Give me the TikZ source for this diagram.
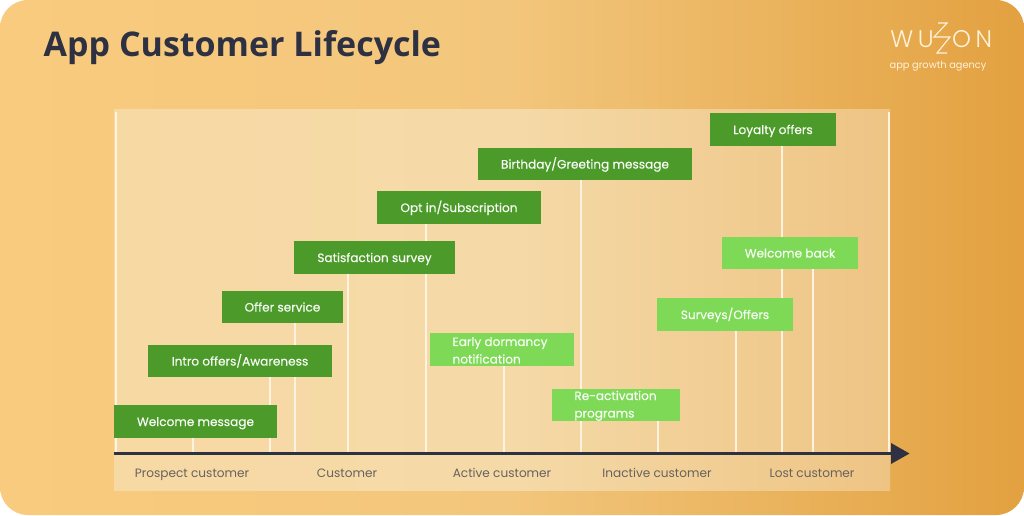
\documentclass[tikz,border=0pt]{standalone}
\usepackage{fontspec}
\setmainfont{Poppins}
\newfontfamily\titlefont[BoldFont={Open Sans Bold}]{Open Sans}
\newfontfamily\logofont[LetterSpace=19]{Poppins Light}
\newfontfamily\boxfont[FakeBold=0.3]{Poppins}
\pgfdeclarelayer{under}
\pgfsetlayers{under,main}
\definecolor{bgL}{HTML}{F9CB7E}
\definecolor{bgM}{HTML}{F2C67C}
\definecolor{bgR}{HTML}{E3A140}
\definecolor{panL}{HTML}{F7D9A4}
\definecolor{panM}{HTML}{F5DAA8}
\definecolor{panR}{HTML}{EEC484}
\definecolor{darkg}{HTML}{4C9A2A}
\definecolor{lightg}{HTML}{7ED957}
\definecolor{axisc}{HTML}{2D3142}
\definecolor{capc}{HTML}{66625E}
\definecolor{stemc}{HTML}{FFF3DF}
\definecolor{logoc}{HTML}{FFF3DC}
\tikzset{
  box/.style={inner sep=0pt,outer sep=0pt},
  darkbox/.style={box,fill=darkg},
  lightbox/.style={box,fill=lightg},
  boxlabel/.style={text=white!94!lightg,inner sep=0pt,align=left,font=\boxfont\fontsize{12.1}{17.5}\selectfont},
  boxtext/.style={boxlabel,text height=11pt,text depth=2pt},
  boxtwo/.style={boxlabel,yshift=-0.8pt},
  stem/.style={draw=stemc,line width=2pt},
  caption/.style={text=capc,font=\fontsize{12.1}{14}\selectfont,inner sep=0pt,anchor=base},
  axisline/.style={draw=axisc,line width=3.6pt}
}
\newcommand{\bx}[8][boxtext]{% name, style, x0,y0,x1,y1,text
  \node[#3,minimum width=#6pt-#4pt,minimum height=#7pt-#5pt] (#2) at ({(#4+#6)/2},{(#5+#7)/2}) {};
  \node[#1] (#2t) at (#2) {#8};
}
\begin{document}
\begin{tikzpicture}[x=1pt,y=-1pt]
\useasboundingbox (0,0) rectangle (1024,515);
\node[anchor=west,inner sep=0pt,text=axisc,font=\titlefont\bfseries\fontsize{34}{40}\selectfont] (title) at (43.5,48) {App Customer Lifecycle};
% feet on the axis
\coordinate (axisL) at (114,453.5);
\coordinate (axisR) at (892,453.5);
\foreach \n/\x in {a/116,b/193,c/270,d/295,e/348,f/426,g/504,h/581,i/658,j/736,k/782,l/813,m/889}
  \coordinate (foot\n) at (\x,452);
\coordinate (topa) at (116,112);
\coordinate (topm) at (889,112);
\bx{welcome}{darkbox}{114}{405}{277}{438}{Welcome message}
\bx{intro}{darkbox}{148}{345}{332}{377}{Intro offers/Awareness}
\bx{offer}{darkbox}{222}{291}{343}{323}{Offer service}
\bx{satis}{darkbox}{294}{241}{455}{274}{Satisfaction survey}
\bx{optin}{darkbox}{377}{191}{541}{224}{Opt in/Subscription}
\bx{birth}{darkbox}{478}{148}{692}{180}{Birthday/Greeting message}
\bx{loyal}{darkbox}{710}{113}{836}{146}{Loyalty offers}
\bx[boxtwo,xshift=-2pt]{early}{lightbox}{430}{333}{574}{366}{Early dormancy\\notification}
\bx[boxtwo,xshift=-0.5pt]{react}{lightbox}{552}{389}{680}{421}{Re-activation\\programs}
\bx{surv}{lightbox}{657}{298}{793}{331}{Surveys/Offers}
\bx{back}{lightbox}{722}{237}{858}{269}{Welcome back}
\begin{pgfonlayer}{under}
\fill[white] (0,0) rectangle (1024,515);
\shade[left color=bgL,right color=bgR,middle color=bgM,rounded corners=28pt] (0,0) rectangle (1024,515);
\shade[left color=panL,right color=panR,middle color=panM] (114,109) rectangle (890,490);
\draw[stem] (topa) -- (foota);
\draw[stem] (topm) -- (footm);
\draw[stem] (welcome.south -| footb) -- (footb);
\draw[stem] (intro.south -| footc) -- (footc);
\draw[stem] (offer.south -| footd) -- (footd);
\draw[stem] (satis.south -| foote) -- (foote);
\draw[stem] (optin.south -| footf) -- (footf);
\draw[stem] (early.south -| footg) -- (footg);
\draw[stem] (birth.south -| footh) -- (footh);
\draw[stem] (react.south -| footi) -- (footi);
\draw[stem] (surv.south -| footj) -- (footj);
\draw[stem] (loyal.south -| footk) -- (footk);
\draw[stem] (back.south -| footl) -- (footl);
\end{pgfonlayer}
\draw[axisline] (axisL) -- (axisR);
\fill[axisc] (891,443) -- (909.5,453.5) -- (891,464) -- cycle;
\node[caption] (c1) at (192,477.5) {Prospect customer};
\node[caption] (c2) at (347,477.5) {Customer};
\node[caption] (c3) at (502,477.5) {Active customer};
\node[caption] (c4) at (657,477.5) {Inactive customer};
\node[caption] (c5) at (812,477.5) {Lost customer};
% logo
\node[text=logoc,font=\fontsize{9.8}{12}\selectfont,inner sep=0pt] (tag) at (938,66) {app growth agency};
\node[text=logoc,font=\logofont\fontsize{24}{24}\selectfont,inner sep=0pt,anchor=base east] (wu) at (934,47) {WU};
\node[text=logoc,font=\logofont\fontsize{24}{24}\selectfont,inner sep=0pt,anchor=base west] (on) at (952,47) {ON};
\draw[logoc,line width=1.1pt] (938,23) -- (947,23) -- (934,37) -- (950,37) -- (937,53) -- (947,53);
\end{tikzpicture}
\end{document}
